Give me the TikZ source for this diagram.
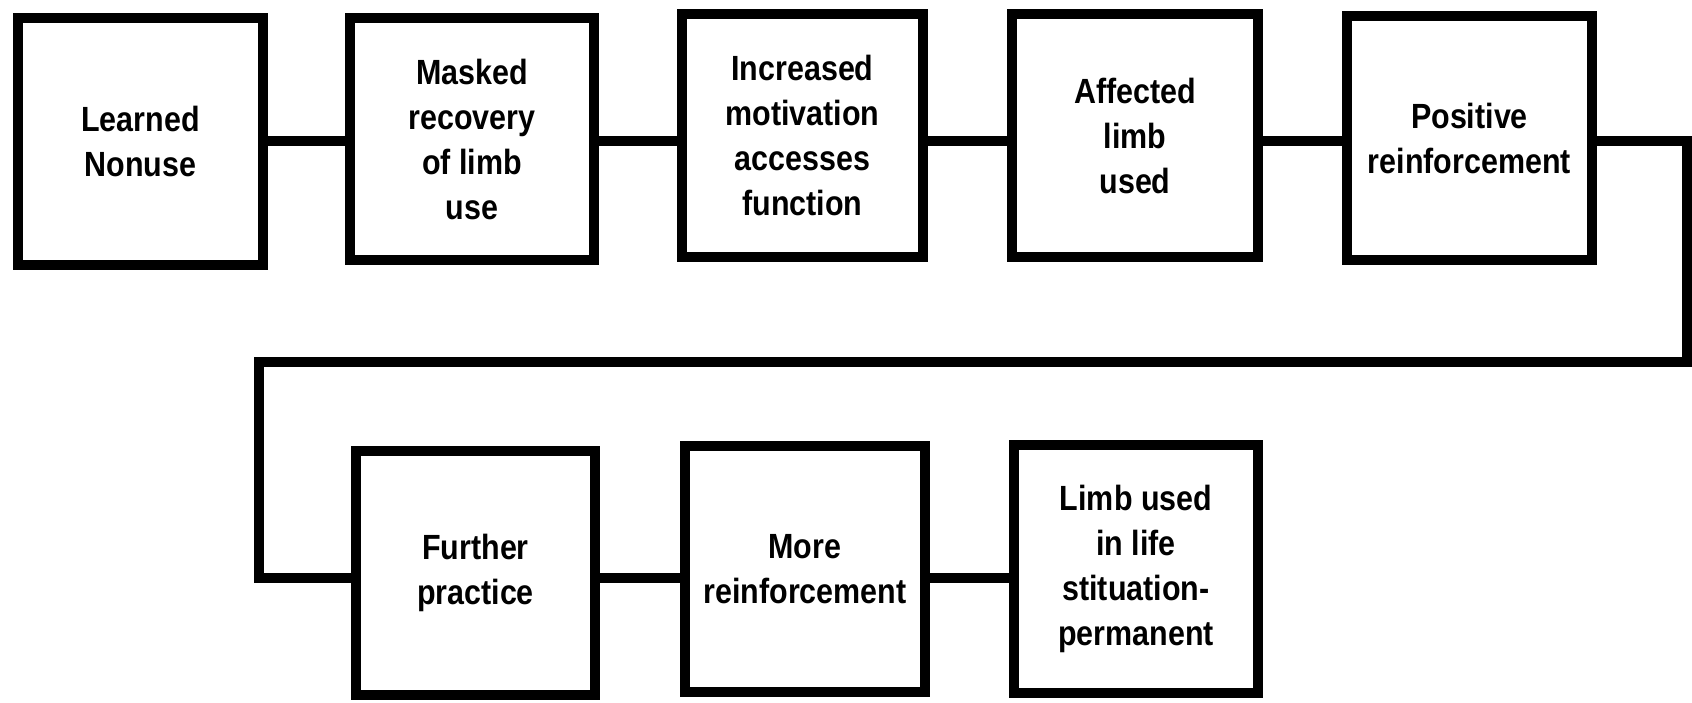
\documentclass[tikz,border=0pt]{standalone}
\usepackage{fontspec}
\setmainfont{Liberation Sans}[FakeStretch=0.87]
\begin{document}
\begin{tikzpicture}[x=1pt,y=-1pt,
  stepbox/.style={draw=black,line width=10pt,fill=white,align=center,inner sep=0pt,
    font=\fontsize{35}{45}\selectfont\bfseries},
  conn/.style={draw=black,line width=10pt}]
\useasboundingbox[fill=white] (0,0) rectangle (1692,703);
\coordinate (r1) at (0,141);
\coordinate (r2) at (0,578);
\coordinate (cR) at (1687,362);
\coordinate (cL) at (259,362);
% row 1
\node[stepbox,minimum width=245pt,minimum height=247pt] (b1) at (140.5,141.5) {Learned\\Nonuse};
\node[stepbox,minimum width=244pt,minimum height=242pt] (b2) at (472,139) {Masked\\recovery\\of limb\\use};
\node[stepbox,minimum width=241pt,minimum height=243pt] (b3) at (802.5,135.5) {Increased\\motivation\\accesses\\function};
\node[stepbox,minimum width=246pt,minimum height=243pt] (b4) at (1135,135.5) {Affected\\limb\\used};
\node[stepbox,minimum width=245pt,minimum height=244pt] (b5) at (1469.5,138) {Positive\\reinforcement};
% row 2
\node[stepbox,minimum width=239pt,minimum height=244pt] (b6) at (475.5,573) {Further\\practice};
\node[stepbox,minimum width=240pt,minimum height=246pt] (b7) at (805,569) {More\\reinforcement};
\node[stepbox,minimum width=244pt,minimum height=248pt] (b8) at (1136,569) {Limb used\\in life\\stituation-\\permanent};
% connectors
\begin{scope}[on background layer/.style={}]
\draw[conn] (b1.east |- r1) -- (b2.west |- r1);
\draw[conn] (b2.east |- r1) -- (b3.west |- r1);
\draw[conn] (b3.east |- r1) -- (b4.west |- r1);
\draw[conn] (b4.east |- r1) -- (b5.west |- r1);
\draw[conn] (b5.east |- r1) -| (cR) -- (cL) |- (b6.west |- r2);
\draw[conn] (b6.east |- r2) -- (b7.west |- r2);
\draw[conn] (b7.east |- r2) -- (b8.west |- r2);
\end{scope}
\end{tikzpicture}
\end{document}
